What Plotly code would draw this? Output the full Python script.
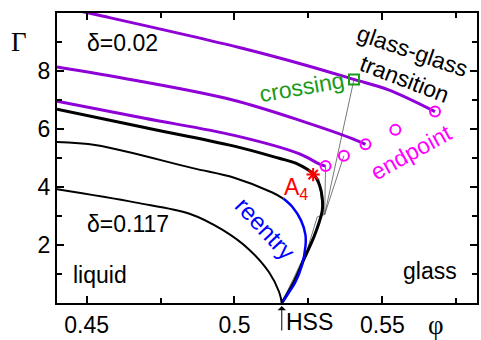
import plotly.graph_objects as go

# Liquid-glass transition lines (phi, Gamma) for three values of delta
top_phi = [0.44, 0.4696, 0.4999, 0.5151, 0.5207, 0.5268, 0.5288, 0.5297, 0.5297, 0.5287, 0.5269, 0.5235, 0.5201, 0.5160]
top_gam = [6.68, 6.05, 5.41, 4.99, 4.82, 4.43, 4.05, 3.60, 3.20, 2.80, 2.29, 1.51, 0.72, 0.0]

mid_phi = [0.44, 0.4534, 0.4859, 0.4999, 0.5128, 0.5165]
mid_gam = [5.55, 5.44, 4.65, 4.32, 3.81, 3.60]

reentry_phi = [0.5165, 0.5196, 0.5225, 0.5240, 0.5240, 0.5228, 0.5205, 0.5185, 0.5160]
reentry_gam = [3.60, 3.31, 2.85, 2.35, 1.95, 1.30, 0.70, 0.38, 0.0]

low_phi = [0.44, 0.4663, 0.4848, 0.4960, 0.5050, 0.5117, 0.5151, 0.5160]
low_gam = [3.92, 3.47, 3.08, 2.52, 1.84, 1.06, 0.38, 0.0]

# Glass-glass transition lines ending in endpoints
gg1_phi = [0.44, 0.4534, 0.5016, 0.5241, 0.5404, 0.5521, 0.5678]
gg1_gam = [10.24, 9.94, 8.81, 8.20, 7.71, 7.35, 6.60]

gg2_phi = [0.44, 0.4657, 0.4994, 0.5241, 0.5398, 0.5443]
gg2_gam = [8.14, 7.69, 7.00, 6.23, 5.67, 5.47]

gg3_phi = [0.44, 0.4696, 0.4999, 0.5218, 0.5286, 0.5308]
gg3_gam = [6.96, 6.37, 5.78, 5.15, 4.80, 4.72]

# Endpoints, crossing and A4 singularity
end_phi = [0.5678, 0.5443, 0.5308, 0.5370, 0.5544]
end_gam = [6.60, 5.47, 4.72, 5.08, 5.97]
cross_phi = [0.5404]
cross_gam = [7.71]
a4_phi = [0.5266]
a4_gam = [4.43]

# Thin connecting lines
thin_lines = [
    ([0.5160, 0.5246, 0.5280, 0.5305], [0.0, 1.84, 2.97, 3.05]),
    ([0.5305, 0.5404], [3.05, 7.71]),
    ([0.5305, 0.5370], [3.05, 5.08]),
    ([0.5305, 0.5308], [3.05, 4.72]),
    ([0.5300, 0.5285], [3.05, 4.30]),
]

HSS = 0.5160

PURPLE = "#8e00d6"
MAGENTA = "#ff00ff"
GREEN = "#1a9a1a"
FONT = "Liberation Sans, Arial, sans-serif"
FS = 23

fig = go.Figure()

for xs, ys in thin_lines:
    fig.add_trace(go.Scatter(x=xs, y=ys, mode="lines",
                             line=dict(color="#555555", width=0.8)))

for xs, ys in [(gg1_phi, gg1_gam), (gg2_phi, gg2_gam), (gg3_phi, gg3_gam)]:
    fig.add_trace(go.Scatter(x=xs, y=ys, mode="lines", line_shape="spline",
                             line=dict(color=PURPLE, width=3)))

fig.add_trace(go.Scatter(x=top_phi, y=top_gam, mode="lines", line_shape="spline",
                         line=dict(color="black", width=3)))
fig.add_trace(go.Scatter(x=mid_phi, y=mid_gam, mode="lines", line_shape="spline",
                         line=dict(color="black", width=2)))
fig.add_trace(go.Scatter(x=reentry_phi, y=reentry_gam, mode="lines", line_shape="spline",
                         line=dict(color="#0000ff", width=2.5)))
fig.add_trace(go.Scatter(x=low_phi, y=low_gam, mode="lines", line_shape="spline",
                         line=dict(color="black", width=2)))

fig.add_trace(go.Scatter(x=end_phi, y=end_gam, mode="markers",
                         marker=dict(symbol="circle-open", size=10, color=MAGENTA,
                                     line=dict(width=2, color=MAGENTA))))
fig.add_trace(go.Scatter(x=cross_phi, y=cross_gam, mode="markers",
                         marker=dict(symbol="square-open", size=10, color=GREEN,
                                     line=dict(width=2, color=GREEN))))
fig.add_trace(go.Scatter(x=a4_phi, y=a4_gam, mode="markers",
                         marker=dict(symbol="asterisk-open", size=11, color="#ff0000",
                                     line=dict(width=2, color="#ff0000"))))

def label(text, x, y, color="black", size=FS, angle=0):
    fig.add_annotation(text=text, x=x, y=y, showarrow=False, textangle=angle,
                       xanchor="center", yanchor="middle",
                       font=dict(family=FONT, size=size, color=color))

label("δ=0.02", 0.462, 8.95)
label("δ=0.117", 0.4639, 2.71)
label("liquid", 0.4545, 0.95)
label("glass", 0.566, 1.12)
label("crossing", 0.5229, 7.46, color=GREEN, angle=-10)
label("glass-glass", 0.5602, 8.68, angle=19)
label("transition", 0.5575, 7.73, angle=21)
label("endpoint", 0.5599, 5.19, color=MAGENTA, angle=-29)
label("reentry", 0.5104, 2.58, color="#0000ff", size=24, angle=47)
label("A<sub>4</sub>", 0.5208, 3.95, color="#ff0000")

# HSS arrow below the axis
fig.add_annotation(x=HSS, y=0, ax=0, ay=29, text="", showarrow=True, standoff=3,
                   arrowhead=1, arrowsize=1.4, arrowwidth=1, arrowcolor="black")
fig.add_annotation(text="HSS", x=HSS, y=0, xanchor="left", yanchor="top",
                   xshift=2, yshift=-4, showarrow=False,
                   font=dict(family=FONT, size=FS, color="black"))

# Axis symbols
fig.add_annotation(text="Γ", x=-0.09, y=0.90, xref="paper", yref="paper",
                   xanchor="center", yanchor="middle", showarrow=False,
                   font=dict(family="Liberation Serif, serif", size=27, color="black"))
fig.add_annotation(text="φ", x=0.902, y=-0.075, xref="paper", yref="paper",
                   xanchor="center", yanchor="middle", showarrow=False,
                   font=dict(family="Liberation Serif, serif", size=27, color="black"))

axis_common = dict(showgrid=False, zeroline=False, showline=True, linecolor="black",
                   linewidth=2, mirror="ticks", ticks="inside", ticklen=7, tickwidth=1.5,
                   tickcolor="black",
                   tickfont=dict(family=FONT, size=FS, color="black"))

fig.update_xaxes(range=[0.44, 0.582], tickvals=[0.45, 0.5, 0.55],
                 ticktext=["0.45", "0.5", "0.55"],
                 minor=dict(tickvals=[0.475, 0.525, 0.575], ticks="inside", ticklen=5,
                            tickwidth=1.5, tickcolor="black"),
                 **axis_common)
fig.update_yaxes(range=[0, 10], tickvals=[2, 4, 6, 8],
                 minor=dict(tickvals=[1, 3, 5, 7, 9], ticks="inside", ticklen=5,
                            tickwidth=1.5, tickcolor="black"),
                 **axis_common)

fig.update_layout(width=481, height=340, showlegend=False,
                  margin=dict(l=57, r=2, t=13, b=32),
                  plot_bgcolor="white", paper_bgcolor="white")

fig.write_html("out.html")
